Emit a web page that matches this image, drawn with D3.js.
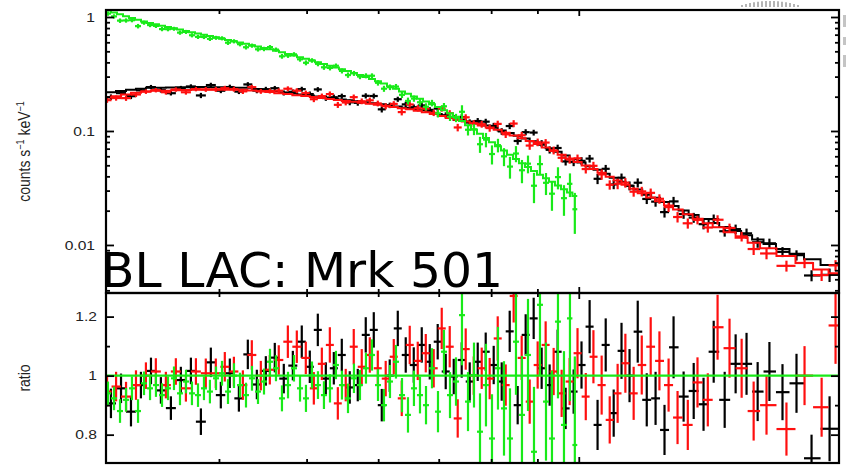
<!DOCTYPE html>
<html>
<head>
<meta charset="utf-8">
<script src="https://cdn.jsdelivr.net/npm/d3@7"></script>
<style>
  html, body { margin: 0; padding: 0; background: #fff; }
  svg { display: block; }
</style>
</head>
<body>
<svg id="chart" width="846" height="465"></svg>
<script>
// ---- Spectral data: bin centre energies (keV), folded model (counts/s/keV),
// ---- data/model ratio and 1-sigma ratio error for each instrument.

const blackE = [3.038, 3.117, 3.197, 3.279, 3.364, 3.450, 3.539, 3.630, 3.724, 3.820,
  3.918, 4.019, 4.112, 4.208, 4.305, 4.405, 4.507, 4.611, 4.718, 4.828,
  4.939, 5.041, 5.145, 5.251, 5.359, 5.469, 5.581, 5.696, 5.813, 5.933,
  6.055, 6.179, 6.307, 6.436, 6.569, 6.704, 6.842, 6.982, 7.126, 7.273,
  7.422, 7.575, 7.731, 7.890, 8.052, 8.218, 8.387, 8.559, 8.735, 8.915,
  9.098, 9.285, 9.476, 9.671, 9.870, 10.07, 10.28, 10.49, 10.71, 10.93,
  11.15, 11.38, 11.62, 11.89, 12.16, 12.44, 12.73, 13.06, 13.40, 13.74,
  14.10, 14.50, 14.91, 15.33, 15.77, 16.25, 16.80, 17.41, 18.09, 18.94];
const blackModel = [0.219, 0.2245, 0.230, 0.2346, 0.239, 0.240, 0.241, 0.2415, 0.242, 0.243,
  0.242, 0.2415, 0.241, 0.240, 0.239, 0.233, 0.229, 0.2236, 0.218, 0.2134,
  0.2088, 0.2047, 0.2005, 0.1965, 0.193, 0.189, 0.1858, 0.1824, 0.1788, 0.1755,
  0.172, 0.168, 0.1638, 0.160, 0.156, 0.1518, 0.1464, 0.141, 0.1356, 0.1305,
  0.1259, 0.121, 0.1168, 0.1117, 0.107, 0.1012, 0.0961, 0.0908, 0.0858, 0.0811,
  0.0759, 0.0706, 0.0656, 0.0608, 0.0564, 0.0528, 0.0491, 0.0457, 0.0422, 0.0389,
  0.0359, 0.0331, 0.0306, 0.0276, 0.026, 0.0238, 0.022, 0.0201, 0.01834, 0.01686,
  0.0156, 0.01438, 0.01324, 0.01216, 0.01117, 0.0102, 0.00922, 0.00836, 0.0075, 0.00667];
const blackRatio = [0.906, 0.957, 0.878, 0.968, 1.016, 0.950, 0.890, 0.985, 1.016, 0.844,
  1.045, 0.934, 1.008, 0.923, 1.072, 0.970, 1.016, 1.061, 0.990, 1.034,
  1.115, 1.030, 1.155, 0.990, 1.025, 1.070, 0.960, 0.968, 1.138, 1.155,
  0.900, 1.000, 1.160, 1.070, 1.036, 1.104, 1.047, 1.115, 1.014, 0.997,
  1.053, 0.980, 1.047, 1.081, 1.036, 0.980, 1.150, 0.900, 1.138, 1.194,
  1.025, 0.968, 1.081, 0.889, 0.946, 1.036, 1.166, 0.833, 1.104, 0.873,
  1.084, 1.000, 1.149, 0.918, 0.923, 0.816, 1.096, 0.929, 0.948, 0.903,
  1.081, 0.918, 1.040, 1.040, 0.946, 1.014, 0.944, 0.974, 0.720, 0.820];
const blackErr = [0.05, 0.05, 0.05, 0.045, 0.045, 0.045, 0.04, 0.045, 0.045, 0.045,
  0.05, 0.045, 0.05, 0.045, 0.05, 0.05, 0.05, 0.05, 0.05, 0.05,
  0.055, 0.055, 0.055, 0.055, 0.055, 0.055, 0.055, 0.055, 0.06, 0.06,
  0.055, 0.055, 0.06, 0.06, 0.06, 0.06, 0.06, 0.06, 0.06, 0.06,
  0.06, 0.065, 0.065, 0.065, 0.065, 0.065, 0.07, 0.065, 0.07, 0.07,
  0.07, 0.07, 0.075, 0.07, 0.075, 0.08, 0.09, 0.085, 0.09, 0.08,
  0.095, 0.09, 0.105, 0.09, 0.09, 0.085, 0.105, 0.085, 0.095, 0.09,
  0.105, 0.095, 0.1, 0.105, 0.1, 0.1, 0.095, 0.1, 0.08, 0.11];

const redE = [3.008, 3.078, 3.157, 3.238, 3.321, 3.406, 3.494, 3.584, 3.677, 3.772,
  3.868, 3.968, 4.060, 4.155, 4.251, 4.349, 4.450, 4.553, 4.658, 4.767,
  4.877, 4.990, 5.093, 5.198, 5.305, 5.414, 5.524, 5.638, 5.754, 5.873,
  5.994, 6.116, 6.243, 6.371, 6.502, 6.636, 6.773, 6.911, 7.054, 7.199,
  7.347, 7.498, 7.653, 7.810, 7.970, 8.135, 8.302, 8.472, 8.647, 8.825,
  9.006, 9.191, 9.380, 9.573, 9.770, 9.968, 10.18, 10.38, 10.60, 10.82,
  11.04, 11.26, 11.50, 11.74, 12.01, 12.28, 12.57, 12.86, 13.20, 13.53,
  13.89, 14.24, 14.68, 15.14, 15.61, 16.13, 16.97, 17.77, 18.56, 19.23];
const redModel = [0.197, 0.202, 0.209, 0.216, 0.2215, 0.225, 0.226, 0.228, 0.2285, 0.230,
  0.230, 0.230, 0.2305, 0.2297, 0.230, 0.2266, 0.223, 0.2197, 0.2144, 0.2106,
  0.2057, 0.2026, 0.1985, 0.1945, 0.1909, 0.1872, 0.1837, 0.1804, 0.177, 0.1737,
  0.1703, 0.1666, 0.1626, 0.1587, 0.1548, 0.1508, 0.1461, 0.1408, 0.1355, 0.1303,
  0.1256, 0.1209, 0.1165, 0.1119, 0.1071, 0.1025, 0.0966, 0.0915, 0.0865, 0.0817,
  0.0769, 0.0717, 0.0667, 0.0619, 0.0574, 0.0535, 0.0499, 0.0465, 0.043, 0.0397,
  0.0367, 0.0338, 0.0312, 0.0285, 0.0261, 0.0242, 0.0222, 0.0205, 0.0186, 0.0170,
  0.0155, 0.0143, 0.0129, 0.0116, 0.01047, 0.00936, 0.00801, 0.00695, 0.00609, 0.00566];
const redRatio = [0.946, 0.963, 0.929, 0.968, 1.000, 1.014, 0.968, 1.014, 0.957, 1.014,
  1.008, 1.008, 1.030, 1.014, 0.968, 1.070, 1.000, 1.020, 1.053, 1.115,
  1.098, 1.060, 0.957, 1.040, 1.104, 0.906, 0.968, 1.098, 1.030, 1.070,
  1.025, 0.990, 1.064, 0.923, 1.104, 1.050, 1.076, 1.025, 1.160, 1.098,
  0.855, 1.090, 1.000, 1.025, 0.990, 1.126, 0.968, 1.270, 1.060, 0.912,
  1.036, 1.104, 1.014, 0.940, 0.980, 1.076, 0.929, 1.064, 0.968, 0.850,
  0.940, 1.042, 0.940, 1.036, 1.098, 1.050, 0.968, 0.858, 0.833, 0.977,
  0.918, 1.164, 1.093, 1.025, 0.880, 0.900, 0.819, 1.000, 0.893, 1.170];
const redErr = [0.05, 0.05, 0.05, 0.05, 0.045, 0.045, 0.045, 0.045, 0.045, 0.045,
  0.05, 0.05, 0.05, 0.05, 0.05, 0.05, 0.05, 0.05, 0.05, 0.055,
  0.055, 0.055, 0.055, 0.055, 0.06, 0.055, 0.055, 0.06, 0.06, 0.06,
  0.06, 0.06, 0.06, 0.06, 0.065, 0.065, 0.065, 0.065, 0.07, 0.07,
  0.065, 0.07, 0.065, 0.07, 0.07, 0.075, 0.07, 0.09, 0.075, 0.075,
  0.08, 0.08, 0.08, 0.08, 0.08, 0.085, 0.08, 0.09, 0.1, 0.08,
  0.1, 0.1, 0.09, 0.1, 0.1, 0.1, 0.09, 0.09, 0.085, 0.085,
  0.09, 0.11, 0.1, 0.1, 0.1, 0.1, 0.09, 0.1, 0.1, 0.13];

const greenE = [3.015, 3.062, 3.109, 3.157, 3.205, 3.255, 3.305, 3.356, 3.407, 3.460,
  3.513, 3.567, 3.622, 3.678, 3.734, 3.792, 3.850, 3.909, 3.970, 4.031,
  4.093, 4.156, 4.220, 4.285, 4.351, 4.418, 4.486, 4.555, 4.625, 4.696,
  4.769, 4.842, 4.917, 4.992, 5.069, 5.147, 5.226, 5.307, 5.388, 5.471,
  5.556, 5.641, 5.728, 5.816, 5.906, 5.997, 6.089, 6.183, 6.278, 6.375,
  6.473, 6.572, 6.674, 6.777, 6.881, 6.987, 7.094, 7.204, 7.315, 7.427,
  7.542, 7.658, 7.776, 7.895, 8.017, 8.140, 8.266, 8.393, 8.522, 8.653,
  8.787, 8.922, 9.059, 9.199, 9.340, 9.484, 9.630, 9.778, 9.900];
const greenModel = [1.140, 1.097, 1.056, 1.016, 0.980, 0.945, 0.915, 0.888, 0.863, 0.839,
  0.817, 0.796, 0.776, 0.7555, 0.736, 0.717, 0.698, 0.680, 0.663, 0.6456,
  0.6288, 0.6125, 0.5967, 0.5812, 0.5662, 0.5505, 0.5352, 0.5203, 0.5049, 0.4898,
  0.4742, 0.4592, 0.4446, 0.4296, 0.4151, 0.4012, 0.3877, 0.3739, 0.3605, 0.3477,
  0.3353, 0.3233, 0.3104, 0.2977, 0.2853, 0.2735, 0.2611, 0.2472, 0.2342, 0.2222,
  0.2117, 0.2012, 0.1914, 0.1813, 0.1717, 0.1626, 0.1524, 0.1429, 0.1331, 0.1223,
  0.1124, 0.1031, 0.0945, 0.0868, 0.0798, 0.0733, 0.0674, 0.0619, 0.0569, 0.0522,
  0.0483, 0.0446, 0.0413, 0.0385, 0.0358, 0.0333, 0.0309, 0.0288, 0.0269];
const greenRatio = [0.940, 0.923, 0.880, 0.918, 0.957, 0.880, 0.974, 0.957, 0.968, 0.934,
  0.957, 0.991, 0.940, 0.980, 0.940, 0.934, 0.957, 0.946, 0.991, 1.008,
  0.946, 1.000, 0.968, 0.934, 0.991, 0.946, 0.980, 1.047, 1.025, 0.923,
  0.968, 1.025, 0.957, 0.923, 1.002, 0.968, 0.934, 0.957, 1.036, 0.968,
  0.923, 0.991, 0.968, 1.025, 1.070, 0.968, 0.900, 0.980, 1.047, 0.934,
  0.867, 0.957, 0.934, 0.900, 1.025, 0.878, 1.081, 0.934, 0.980, 1.205,
  0.912, 1.002, 0.810, 0.968, 0.787, 1.025, 0.889, 0.787, 1.115, 0.867,
  1.070, 0.742, 1.240, 0.912, 0.787, 1.183, 0.833, 1.194, 0.765];
const greenErr = [0.04, 0.04, 0.04, 0.04, 0.04, 0.04, 0.04, 0.04, 0.04, 0.04,
  0.04, 0.04, 0.04, 0.04, 0.04, 0.04, 0.04, 0.04, 0.04, 0.042,
  0.042, 0.042, 0.042, 0.042, 0.042, 0.042, 0.044, 0.044, 0.044, 0.044,
  0.045, 0.045, 0.045, 0.046, 0.046, 0.047, 0.047, 0.048, 0.048, 0.049,
  0.05, 0.05, 0.051, 0.052, 0.053, 0.054, 0.055, 0.056, 0.057, 0.058,
  0.06, 0.06, 0.062, 0.065, 0.068, 0.07, 0.074, 0.078, 0.082, 0.17,
  0.1, 0.11, 0.13, 0.14, 0.15, 0.14, 0.16, 0.17, 0.18, 0.2,
  0.19, 0.22, 0.24, 0.2, 0.23, 0.26, 0.25, 0.28, 0.3];

// ---- Axis ticks
const energyTicks = [4, 5, 6, 7, 8, 9, 10];
const countMajor = [1, 0.1, 0.01];
const countLabels = ["1", "0.1", "0.01"];
const ratioMajor = [1.2, 1, 0.8];
const ratioLabels = ["1.2", "1", "0.8"];
const ratioMinor = [1.1, 0.9];

const title = "BL LAC: Mrk 501";

// ---- Layout
const L = 106, R = 839, T = 10, MID = 293, B = 463;

const colors = { black: "#000000", red: "#ff0f0f", green: "#19ea19" };

const svg = d3.select("#chart");

const x = d3.scaleLog().domain([3, 19.4]).range([L, R]);
const yTop = d3.scaleLog().domain([0.00379, 1.152]).range([MID, T]);
const yBot = d3.scaleLinear().domain([0.704, 1.28]).range([B, MID]);

// contiguous bins: edges halfway (in log E) between neighbouring centres
function binsOf(E, model, ratio, err) {
  const n = E.length;
  const mid = d3.range(n - 1).map(i => Math.sqrt(E[i] * E[i + 1]));
  return E.map((e, i) => ({
    e,
    lo: i === 0 ? e * e / mid[0] : mid[i - 1],
    hi: i === n - 1 ? e * e / mid[n - 2] : mid[i],
    model: model[i], ratio: ratio[i], err: err[i]
  }));
}

const datasets = [
  { color: colors.black, bins: binsOf(blackE, blackModel, blackRatio, blackErr) },
  { color: colors.red, bins: binsOf(redE, redModel, redRatio, redErr) },
  { color: colors.green, bins: binsOf(greenE, greenModel, greenRatio, greenErr) }
];

const defs = svg.append("defs");
defs.append("clipPath").attr("id", "clipTop")
  .append("rect").attr("x", L).attr("y", T).attr("width", R - L).attr("height", MID - T);
defs.append("clipPath").attr("id", "clipBot")
  .append("rect").attr("x", L).attr("y", MID).attr("width", R - L).attr("height", B - MID);

const gTop = svg.append("g").attr("clip-path", "url(#clipTop)");
const gBot = svg.append("g").attr("clip-path", "url(#clipBot)");

const stepLine = d3.line().x(d => x(d[0])).y(d => yTop(d[1]));
const markWidth = 2.2;

datasets.forEach(ds => {
  // upper panel: counts spectrum with error crosses
  const gd = gTop.append("g").attr("stroke", ds.color).attr("stroke-width", markWidth).attr("fill", "none");
  gd.selectAll("line.h").data(ds.bins).join("line").attr("class", "h")
    .attr("x1", d => x(d.lo)).attr("x2", d => x(d.hi))
    .attr("y1", d => yTop(d.model * d.ratio)).attr("y2", d => yTop(d.model * d.ratio));
  gd.selectAll("line.v").data(ds.bins).join("line").attr("class", "v")
    .attr("x1", d => x(d.e)).attr("x2", d => x(d.e))
    .attr("y1", d => yTop(d.model * (d.ratio - d.err)))
    .attr("y2", d => yTop(d.model * (d.ratio + d.err)));
  // folded model as a histogram
  const pts = [];
  ds.bins.forEach(d => { pts.push([d.lo, d.model]); pts.push([d.hi, d.model]); });
  gTop.append("path").attr("d", stepLine(pts))
    .attr("fill", "none").attr("stroke", ds.color).attr("stroke-width", 2);

  // lower panel: data / model ratio
  const gr = gBot.append("g").attr("stroke", ds.color).attr("stroke-width", markWidth);
  gr.selectAll("line.h").data(ds.bins).join("line").attr("class", "h")
    .attr("x1", d => x(d.lo)).attr("x2", d => x(d.hi))
    .attr("y1", d => yBot(d.ratio)).attr("y2", d => yBot(d.ratio));
  gr.selectAll("line.v").data(ds.bins).join("line").attr("class", "v")
    .attr("x1", d => x(d.e)).attr("x2", d => x(d.e))
    .attr("y1", d => yBot(d.ratio - d.err)).attr("y2", d => yBot(d.ratio + d.err));
});

// unity line in the ratio panel
gBot.append("line")
  .attr("x1", L).attr("x2", R).attr("y1", yBot(1)).attr("y2", yBot(1))
  .attr("stroke", colors.green).attr("stroke-width", 2.4);

// ---- Ticks (all pointing inward)
function ticks(axisGen, scale, values, size, tx, ty) {
  svg.append("g").attr("transform", `translate(${tx},${ty})`)
    .call(axisGen(scale).tickValues(values).tickSize(size).tickFormat(""))
    .call(g => g.select(".domain").remove())
    .call(g => g.selectAll("text").remove())
    .selectAll("line").attr("stroke", "#000").attr("stroke-width", 1.8);
}

const countMinor = yTop.ticks().filter(v => !countMajor.some(m => Math.abs(m - v) / m < 1e-6));
const energyMinor = energyTicks.filter(v => v !== 10);

[[d3.axisLeft, L], [d3.axisRight, R]].forEach(([gen, px]) => {
  ticks(gen, yTop, countMajor, -8, px, 0);
  ticks(gen, yTop, countMinor, -4, px, 0);
  ticks(gen, yBot, ratioMajor, -8, px, 0);
  ticks(gen, yBot, ratioMinor, -4, px, 0);
});
[[d3.axisTop, T], [d3.axisBottom, MID], [d3.axisTop, MID], [d3.axisBottom, B]].forEach(([gen, py]) => {
  ticks(gen, x, energyMinor, -4, 0, py);
  ticks(gen, x, [10], -6, 0, py);
});

// ---- Frames
svg.append("rect").attr("x", L).attr("y", T).attr("width", R - L).attr("height", MID - T)
  .attr("fill", "none").attr("stroke", "#000").attr("stroke-width", 2.2);
svg.append("rect").attr("x", L).attr("y", MID).attr("width", R - L).attr("height", B - MID)
  .attr("fill", "none").attr("stroke", "#000").attr("stroke-width", 2.2);

// ---- Tick labels
const labelFont = "'Liberation Sans', Arial, Helvetica, sans-serif";
function tickLabel(px, py, txt) {
  svg.append("text")
    .attr("transform", `translate(${px},${py}) scale(1.2,1)`)
    .attr("text-anchor", "end")
    .attr("font-family", labelFont).attr("font-size", 13).attr("fill", "#222")
    .text(txt);
}
countMajor.forEach((v, i) => tickLabel(95, yTop(v) + 4.7, countLabels[i]));
ratioMajor.forEach((v, i) => tickLabel(97, yBot(v) + 4.7, ratioLabels[i]));

// ---- Axis titles
const yTitle = svg.append("text")
  .attr("transform", `translate(30,${(T + MID) / 2}) scale(1.2,1) rotate(-90)`)
  .attr("text-anchor", "middle")
  .attr("font-family", labelFont).attr("font-size", 14).attr("fill", "#222");
yTitle.append("tspan").text("counts s");
yTitle.append("tspan").attr("dy", -5).attr("font-size", 9).text("−1");
yTitle.append("tspan").attr("dy", 5).text(" keV");
yTitle.append("tspan").attr("dy", -5).attr("font-size", 9).text("−1");

svg.append("text")
  .attr("transform", `translate(30,${(MID + B) / 2}) scale(1.2,1) rotate(-90)`)
  .attr("text-anchor", "middle")
  .attr("font-family", labelFont).attr("font-size", 14).attr("fill", "#222")
  .text("ratio");

// ---- Title overlay
svg.append("text")
  .attr("x", 101).attr("y", 287)
  .attr("font-family", "'DejaVu Sans', Verdana, sans-serif").attr("font-size", 48)
  .attr("textLength", 402).attr("lengthAdjust", "spacingAndGlyphs")
  .attr("fill", "#000")
  .text(title);

// ---- Faint page marks at the top-right edge
const hatch = svg.append("g").attr("stroke", "#b4b4b4").attr("stroke-width", 2);
d3.range(742, 800, 4).forEach((px, i, arr) => {
  const t = Math.abs(i - (arr.length - 1) / 2) / ((arr.length - 1) / 2);
  hatch.append("line").attr("x1", px).attr("x2", px)
    .attr("y1", 1 + 4 * t * t).attr("y2", 7);
});
[[15, 12], [37, 8], [55, 12]].forEach(([py, h]) => {
  svg.append("rect").attr("x", 843).attr("y", py).attr("width", 3).attr("height", h)
    .attr("fill", "#c4c4c4");
});
</script>
</body>
</html>
